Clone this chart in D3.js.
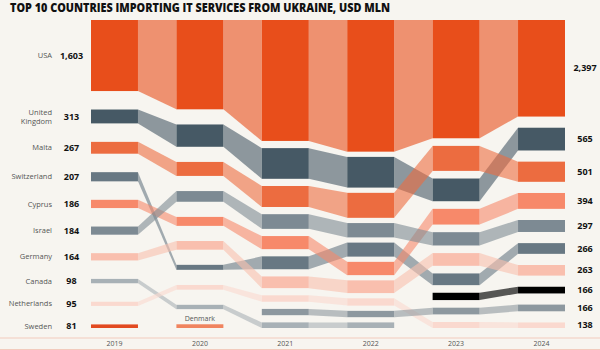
<!DOCTYPE html>
<html>
<head>
<meta charset="utf-8">
<script src="https://cdn.jsdelivr.net/npm/d3@7"></script>
<style>
  html, body { margin: 0; padding: 0; background: #f7f5f0; }
  svg { display: block; }
</style>
</head>
<body>
<script>
// years on the x axis
const years = ["2019", "2020", "2021", "2022", "2023", "2024"];

// USD mln per year (null = not in the top 10 that year)
const usa         = [1603, 2114, 3123, 3460, 3042, 2397];
const uk          = [313, 528, 792, 807, 584, 565];
const malta       = [267, 331, 542, 657, 643, 501];
const switzerland = [207, 118, 333, 368, 301, 266];
const cyprus      = [186, 212, 338, 349, 404, 394];
const israel      = [184, 253, 379, 376, 342, 297];
const germany     = [164, 205, 302, 334, 327, 263];
const canada      = [98, 102, 145, 147, null, null];
const netherlands = [95, 111, 165, 192, 154, 138];
const sweden      = [81, null, null, null, null, null];
const denmark     = [null, 88, null, null, null, null];
const blackOne    = [null, null, null, null, 188, 166]; // not named on the chart
const greyOne     = [null, null, 162, 166, 172, 166]; // not named on the chart

const series = [
  { name: "USA", values: usa, color: "#e84e1b" },
  { name: "United Kingdom", values: uk, color: "#465965" },
  { name: "Malta", values: malta, color: "#ec6c40" },
  { name: "Switzerland", values: switzerland, color: "#687883" },
  { name: "Cyprus", values: cyprus, color: "#f7896a" },
  { name: "Israel", values: israel, color: "#7d8a93" },
  { name: "Germany", values: germany, color: "#f9bfae" },
  { name: "Canada", values: canada, color: "#a8b1b6" },
  { name: "Netherlands", values: netherlands, color: "#fad9cf" },
  { name: "Sweden", values: sweden, color: "#e24a20" },
  { name: "Denmark", values: denmark, color: "#f0845f" },
  { name: "", values: blackOne, color: "#000000" },
  { name: "", values: greyOne, color: "#8d989f" }
];

const width = 600, height = 350;
const yTop = 20, yBottom = 328;
const colSpan = yBottom - yTop;

const svg = d3.select("body").append("svg")
  .attr("width", width)
  .attr("height", height)
  .style("background", "#f7f5f0");

const x = d3.scaleBand()
  .domain(years)
  .range([91, 565])
  .paddingInner(0.45)
  .paddingOuter(0);

// stack each year: sorted by value, column keeps the same total height,
// bars grow a bit slower than the year's total so the gaps shrink
const sums = years.map((y, i) => d3.sum(series, s => s.values[i] || 0));
const colHeight = d3.scalePow().exponent(0.8)
  .domain([0, d3.max(sums)])
  .range([0, 0.847 * colSpan]);

const key = (s, i) => s.name + "|" + s.color + "|" + i;
const pos = new Map(); // key -> {y0, y1}
years.forEach((yr, i) => {
  const rows = series.filter(s => s.values[i] != null)
    .sort((a, b) => b.values[i] - a.values[i]);
  const h = colHeight(sums[i]);
  const gap = (colSpan - h) / (rows.length - 1);
  const yv = d3.scaleLinear().domain([0, sums[i]]).range([0, h]);
  let cur = yTop;
  rows.forEach(s => {
    const hh = yv(s.values[i]);
    pos.set(key(s, i), { y0: cur, y1: cur + hh, s: s, i: i });
    cur += hh + gap;
  });
});

// ribbons between neighbouring years
const ribbons = [];
series.forEach(s => {
  for (let i = 0; i < years.length - 1; i++) {
    const a = pos.get(key(s, i)), b = pos.get(key(s, i + 1));
    if (a && b) ribbons.push({ s, a, b, i });
  }
});

svg.append("g")
  .selectAll("path")
  .data(ribbons)
  .join("path")
  .attr("d", d => {
    const xa = x(years[d.i]) + x.bandwidth(), xb = x(years[d.i + 1]);
    return `M${xa},${d.a.y0}L${xb},${d.b.y0}L${xb},${d.b.y1}L${xa},${d.a.y1}Z`;
  })
  .attr("fill", d => d.s.color)
  .attr("fill-opacity", d => d.s.color === "#000000" ? 0.65 : 0.6);

// bars
svg.append("g")
  .selectAll("rect")
  .data(Array.from(pos.values()))
  .join("rect")
  .attr("x", d => x(years[d.i]))
  .attr("y", d => d.y0)
  .attr("width", x.bandwidth())
  .attr("height", d => d.y1 - d.y0)
  .attr("fill", d => d.s.color);

// left labels (2019)
const first = Array.from(pos.values()).filter(d => d.i === 0);
const left = svg.append("g").attr("font-family", "'Open Sans', sans-serif");
first.forEach(d => {
  const cy = (d.y0 + d.y1) / 2;
  const t = left.append("text")
    .attr("x", 52).attr("y", cy)
    .attr("text-anchor", "end")
    .attr("font-size", 7.5)
    .attr("fill", "#555");
  const words = d.s.name === "United Kingdom" ? ["United", "Kingdom"] : [d.s.name];
  words.forEach((w, j) => {
    t.append("tspan")
      .attr("x", 52)
      .attr("dy", j === 0 ? (0.35 - (words.length - 1) * 0.6) + "em" : "1.2em")
      .text(w);
  });
  left.append("text")
    .attr("x", 71.5).attr("y", cy).attr("dy", "0.35em")
    .attr("text-anchor", "middle")
    .attr("font-size", 9).attr("font-weight", 700)
    .attr("fill", "#111")
    .text(d3.format(",")(d.s.values[0]));
});

// right values (2024)
const last = Array.from(pos.values()).filter(d => d.i === years.length - 1);
svg.append("g")
  .selectAll("text")
  .data(last)
  .join("text")
  .attr("x", 585)
  .attr("y", d => (d.y0 + d.y1) / 2)
  .attr("dy", "0.35em")
  .attr("text-anchor", "middle")
  .attr("font-family", "'Open Sans', sans-serif")
  .attr("font-size", 9).attr("font-weight", 700)
  .attr("fill", "#111")
  .text(d => d3.format(",")(d.s.values[years.length - 1]));

// Denmark label over its 2020 bar
const dk = pos.get(key(series.find(s => s.name === "Denmark"), 1));
svg.append("text")
  .attr("x", x("2020") + x.bandwidth() / 2)
  .attr("y", dk.y0 - 3)
  .attr("text-anchor", "middle")
  .attr("font-family", "'Open Sans', sans-serif")
  .attr("font-size", 7)
  .attr("fill", "#555")
  .text("Denmark");

// bottom axis band
svg.append("g").selectAll("line")
  .data([338, 349.5])
  .join("line")
  .attr("x1", 0).attr("x2", width)
  .attr("y1", d => d).attr("y2", d => d)
  .attr("stroke", "#f2cbbd").attr("stroke-width", 1);

svg.append("g")
  .selectAll("text")
  .data(years)
  .join("text")
  .attr("x", d => x(d) + x.bandwidth() / 2)
  .attr("y", 344)
  .attr("dy", "0.35em")
  .attr("text-anchor", "middle")
  .attr("font-family", "'Open Sans', sans-serif")
  .attr("font-size", 7)
  .attr("fill", "#555")
  .text(d => d);

// title
svg.append("text")
  .attr("x", 10).attr("y", 11.5)
  .attr("font-family", "'Open Sans', sans-serif")
  .attr("font-size", 11.5).attr("font-weight", 800)
  .attr("fill", "#111")
  .attr("textLength", 380)
  .attr("lengthAdjust", "spacingAndGlyphs")
  .text("TOP 10 COUNTRIES IMPORTING IT SERVICES FROM UKRAINE, USD MLN");
</script>
</body>
</html>
